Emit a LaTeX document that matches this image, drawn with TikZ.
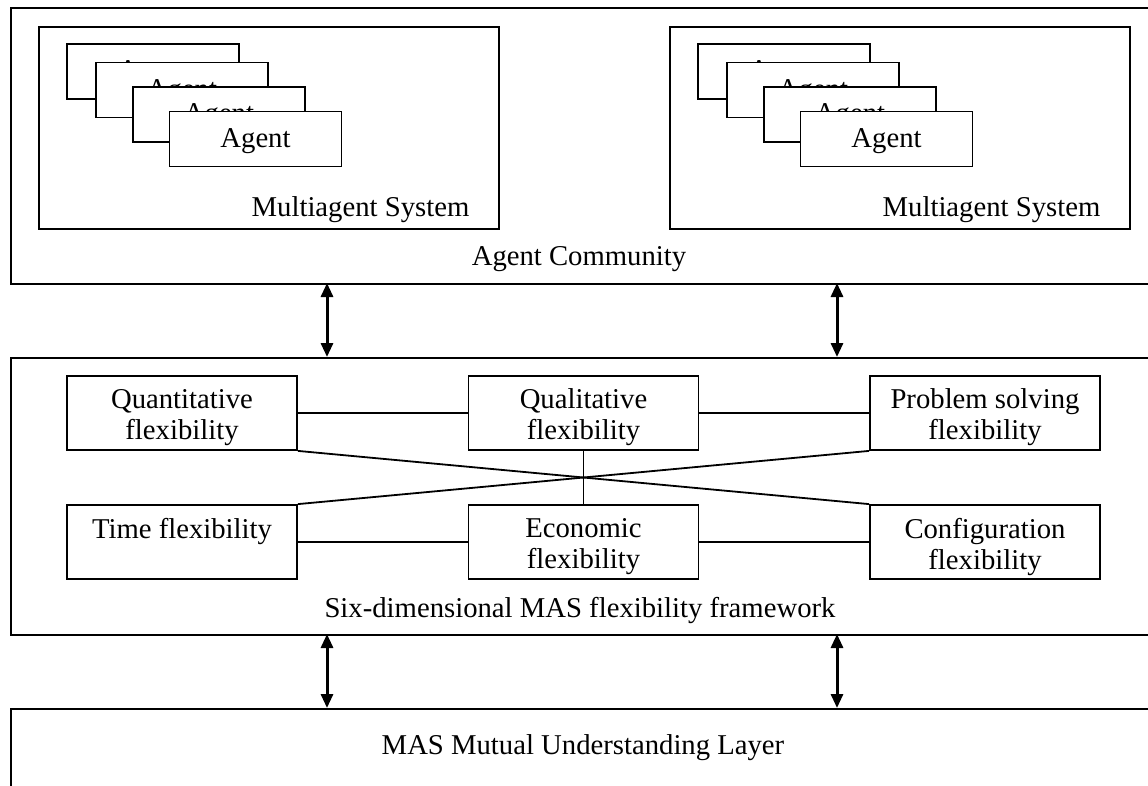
\documentclass[tikz,border=0pt]{standalone}
\usepackage{fontspec}
\setmainfont{Liberation Serif}
\usetikzlibrary{arrows.meta}
\begin{document}
\begin{tikzpicture}[x=1pt,y=-1pt,
  txt/.style={font=\fontsize{28.7}{31}\selectfont},
  layer/.style={draw, line width=2.2pt, inner sep=0pt, anchor=north west},
  masbox/.style={draw, line width=2pt, inner sep=0pt, anchor=north west, minimum width=460pt, minimum height=202pt},
  agentbox/.style={draw, line width=1.8pt, fill=white, minimum width=172pt, minimum height=55pt, inner sep=0pt,
    label={[txt, inner sep=0pt, yshift=-2pt]center:#1}},
  flexbox/.style={draw, line width=1.8pt, minimum width=230pt, minimum height=74pt, inner sep=0pt,
    label={[txt, align=center, inner sep=0pt, yshift=-4.5pt]center:#1}},
  flexone/.style={draw, line width=1.8pt, minimum width=230pt, minimum height=74pt, inner sep=0pt,
    label={[txt, inner sep=0pt, yshift=11pt]center:#1}},
  lbl/.style={inner sep=0pt, txt},
  link/.style={line width=1.8pt},
  biarrow/.style={line width=3pt, {Triangle[length=14pt,width=12pt]}-{Triangle[length=14pt,width=12pt]}}
]
\useasboundingbox (0,0) rectangle (1148,785);
\clip (0,0) rectangle (1148,785);

% layers
\node[layer, minimum width=1150pt, minimum height=276pt] (community) at (10,7) {};
\node[layer, minimum width=1150pt, minimum height=277pt] (framework) at (10,357) {};
\node[layer, minimum width=1150pt, minimum height=100pt] (mutual) at (10,708) {};

% multiagent systems
\node[masbox] (mas1) at (38,26) {};
\node[masbox] (mas2) at (669,26) {};
\node[lbl] (mas1lbl) at (360.5,210) {Multiagent System};
\node[lbl] (mas2lbl) at (991.5,210) {Multiagent System};

% agent stacks
\foreach \dx/\s in {0/a, 631/b} {
  \node[agentbox=Agent] (\s1) at (153+\dx,71.5) {};
  \node[agentbox=Agent] (\s2) at (182+\dx,90) {};
  \node[agentbox=Agent] (\s3) at (219+\dx,114.5) {};
  \node[agentbox=Agent] (\s4) at (255.5+\dx,139) {};
}

\node[lbl] (commlbl) at (579,259) {Agent Community};

% flexibility boxes
\node[flexbox={Quantitative\\flexibility}] (quant) at (182,413) {};
\node[flexbox={Qualitative\\flexibility}] (qual) at (583.5,413) {};
\node[flexbox={Problem solving\\flexibility}] (prob) at (985,413) {};
\node[flexone={Time flexibility}] (time) at (182,542) {};
\node[flexbox={Economic\\flexibility}] (econ) at (583.5,542) {};
\node[flexbox={Configuration\\flexibility}] (config) at (985,542) {};

\draw[link] (quant) -- (qual);
\draw[link] (qual) -- (prob);
\draw[link] (time) -- (econ);
\draw[link] (econ) -- (config);
\draw[link] (qual.south) -- (econ.north);
\draw[link] (quant.south east) -- (config.north west);
\draw[link] (time.north east) -- (prob.south west);

\node[lbl] (fwlbl) at (580,610) {Six-dimensional MAS flexibility framework};
\node[lbl] (mulbl) at (583,748) {MAS Mutual Understanding Layer};

% arrows between layers
\coordinate (c1) at (327,283);
\coordinate (c2) at (837,283);
\coordinate (f1) at (327,357);
\coordinate (f2) at (837,357);
\coordinate (g1) at (327,634);
\coordinate (g2) at (837,634);
\coordinate (m1) at (327,708);
\coordinate (m2) at (837,708);
\draw[biarrow] (c1) -- (f1);
\draw[biarrow] (c2) -- (f2);
\draw[biarrow] (g1) -- (m1);
\draw[biarrow] (g2) -- (m2);
\end{tikzpicture}
\end{document}
